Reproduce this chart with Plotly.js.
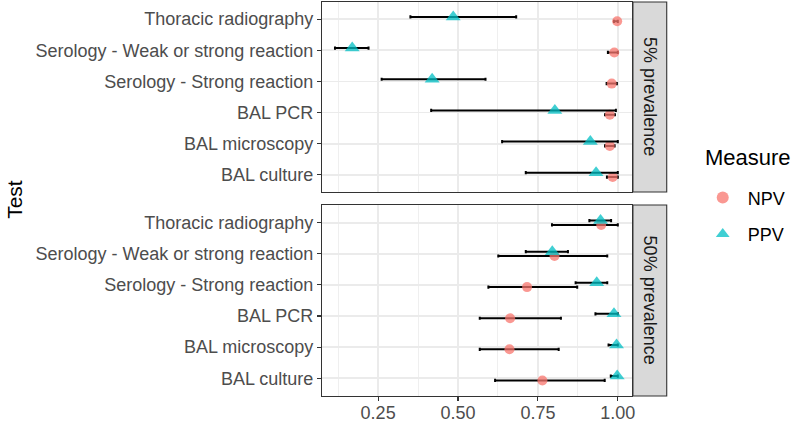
<!DOCTYPE html>
<html><head><meta charset="utf-8">
<script src="https://cdn.plot.ly/plotly-3.0.1.min.js"></script>
<style>html,body{margin:0;padding:0;background:#fff}</style>
</head><body><div id="chart" style="width:793px;height:421px"></div>
<script>
// Categories, bottom to top
const tests = ["BAL culture", "BAL microscopy", "BAL PCR", "Serology - Strong reaction", "Serology - Weak or strong reaction", "Thoracic radiography"];
const panels = ["5% prevalence", "50% prevalence"];
const measures = ["NPV", "PPV"];
const xTicks = [0.25, 0.50, 0.75, 1.00];
const xTickText = ["0.25", "0.50", "0.75", "1.00"];

// 5% prevalence
const ppv5    = [0.932, 0.914, 0.803, 0.419, 0.169, 0.485];
const ppv5Lo  = [0.712, 0.638, 0.416, 0.261, 0.115, 0.351];
const ppv5Hi  = [1.000, 1.000, 0.994, 0.586, 0.220, 0.682];
const npv5    = [0.984, 0.975, 0.975, 0.981, 0.989, 0.998];
const npv5Lo  = [0.966, 0.960, 0.960, 0.965, 0.969, 0.988];
const npv5Hi  = [1.000, 0.990, 0.991, 0.997, 1.000, 1.000];

// 50% prevalence
const ppv50   = [0.998, 0.996, 0.988, 0.934, 0.795, 0.946];
const ppv50Lo = [0.978, 0.971, 0.930, 0.868, 0.712, 0.911];
const ppv50Hi = [1.000, 1.000, 1.000, 0.967, 0.844, 0.979];
const npv50   = [0.764, 0.661, 0.663, 0.716, 0.802, 0.948];
const npv50Lo = [0.616, 0.568, 0.568, 0.595, 0.626, 0.794];
const npv50Hi = [0.959, 0.815, 0.822, 0.873, 0.967, 1.000];

const FONT = "Liberation Sans, Arial, Helvetica, sans-serif";
const NPV_COL = "#F8766D", PPV_COL = "#00BFC4";
const DODGE = 0.07;

function mk(vals, lo, hi, name, xa, ya, color, symbol, size, off, showlegend) {
  return {
    type: "scatter", mode: "markers", name: name, legendgroup: name,
    showlegend: showlegend, xaxis: xa, yaxis: ya,
    x: vals, y: tests.map((t, i) => i + 1 + off),
    marker: {color: color, symbol: symbol, size: size, opacity: 0.75, line: {width: 0}},
    error_x: {type: "data", symmetric: false,
      array: hi.map((h, i) => h - vals[i]),
      arrayminus: lo.map((l, i) => vals[i] - l),
      color: "#000000", thickness: 2, width: 1.6},
    hoverinfo: "x+name"
  };
}

const data = [
  mk(npv5, npv5Lo, npv5Hi, measures[0], "x", "y", NPV_COL, "circle", 10, -DODGE, true),
  mk(ppv5, ppv5Lo, ppv5Hi, measures[1], "x", "y", PPV_COL, "triangle-up", 13, DODGE, true),
  mk(npv50, npv50Lo, npv50Hi, measures[0], "x2", "y2", NPV_COL, "circle", 10, -DODGE, false),
  mk(ppv50, ppv50Lo, ppv50Hi, measures[1], "x2", "y2", PPV_COL, "triangle-up", 13, DODGE, false)
];

const XR = [0.0744, 1.0444];
const topDom = [0.5178, 1], botDom = [0, 0.4848];
function xax(anchor, labels) {
  return {
    anchor: anchor, range: XR, tickmode: "array", tickvals: xTicks, ticktext: xTickText,
    showticklabels: labels, ticks: labels ? "outside" : "", ticklen: 4, tickwidth: 1.1, tickcolor: "#333333",
    ticklabelstandoff: -4,
    tickfont: {family: FONT, size: 18, color: "#4D4D4D"},
    showgrid: true, gridcolor: "#EBEBEB", gridwidth: 1.5, zeroline: false,
    minor: {tickvals: [0.125, 0.375, 0.625, 0.875], showgrid: true, gridcolor: "#EBEBEB", gridwidth: 0.8, ticks: ""},
    showline: true, mirror: true, linecolor: "#333333", linewidth: 1.1, fixedrange: true
  };
}
function yax(dom, range) {
  return {
    domain: dom, range: range, tickmode: "array", tickvals: tests.map((t, i) => i + 1), ticktext: tests,
    ticks: "outside", ticklen: 4, tickwidth: 1.1, tickcolor: "#333333",
    tickfont: {family: FONT, size: 18, color: "#4D4D4D"},
    showgrid: true, gridcolor: "#EBEBEB", gridwidth: 1.6, zeroline: false,
    showline: true, mirror: true, linecolor: "#333333", linewidth: 1.1, fixedrange: true
  };
}

const strips = [topDom, botDom];
const layout = {
  width: 793, height: 421,
  margin: {l: 322, r: 159, t: 2, b: 25},
  paper_bgcolor: "#FFFFFF", plot_bgcolor: "#FFFFFF",
  font: {family: FONT, color: "#000000"},
  xaxis: xax("y", false),
  xaxis2: Object.assign(xax("y2", true), {matches: "x"}),
  yaxis: yax(topDom, [0.45, 6.55]),
  yaxis2: yax(botDom, [0.43, 6.57]),
  showlegend: true,
  legend: {
    x: 1.212, y: 0.55, xanchor: "left", yanchor: "top",
    font: {family: FONT, size: 18, color: "#000000"},
    bgcolor: "rgba(0,0,0,0)", itemsizing: "constant", itemwidth: 40
  },
  shapes: strips.map(d => ({
    type: "rect", xref: "paper", yref: "paper", x0: 1.003, x1: 1.112, y0: d[0], y1: d[1],
    fillcolor: "#D9D9D9", line: {color: "#333333", width: 1.1}, layer: "below"
  })),
  annotations: strips.map((d, i) => ({
    xref: "paper", yref: "paper", x: 1.0577, y: (d[0] + d[1]) / 2, text: panels[i],
    textangle: 90, showarrow: false, xanchor: "center", yanchor: "middle",
    font: {family: FONT, size: 18, color: "#1A1A1A"}
  })).concat([{
    xref: "paper", yref: "paper", x: -0.994, y: 0.5, text: "Test", textangle: -90,
    showarrow: false, xanchor: "center", yanchor: "middle",
    font: {family: FONT, size: 21, color: "#000000"}
  }, {
    xref: "paper", yref: "paper", x: (705 - 322) / 312, y: (396 - 157) / 394, text: "Measure",
    showarrow: false, xanchor: "left", yanchor: "middle",
    font: {family: FONT, size: 22, color: "#000000"}
  }])
};

Plotly.newPlot("chart", data, layout, {staticPlot: true, displayModeBar: false});
</script>
</body></html>
